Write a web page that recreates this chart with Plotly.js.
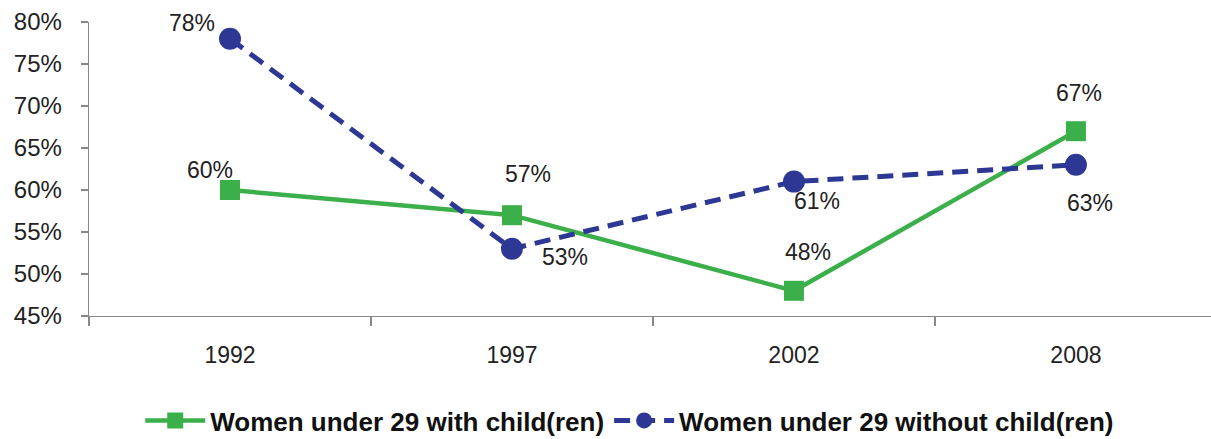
<!DOCTYPE html>
<html>
<head>
<meta charset="utf-8">
<script src="https://cdn.plot.ly/plotly-3.0.1.min.js"></script>
<style>
html,body{margin:0;padding:0;background:#fff;}
#chart{width:1211px;height:439px;}
</style>
</head>
<body>
<div id="chart"></div>
<script>
const years = ['1992', '1997', '2002', '2008'];
const withChildren = [0.60, 0.57, 0.48, 0.67];
const withoutChildren = [0.78, 0.53, 0.61, 0.63];
const seriesNames = ['Women under 29 with child(ren)', 'Women under 29 without child(ren)'];

const green = '#3AAF4A';
const blue = '#2C3894';
const font = 'Liberation Sans, Arial, sans-serif';

// label offsets (pixels) for each point
const offWith = [[-20, 20], [16, 41], [14, 39], [3, 38]];
const offWithout = [[-38, 16], [53, -8], [23, -19], [14, -38]];

const traces = [
  {
    x: years, y: withChildren, name: seriesNames[0], type: 'scatter', mode: 'lines+markers',
    line: {color: green, width: 4.5},
    marker: {symbol: 'square', size: 20, color: green}
  },
  {
    x: years, y: withoutChildren, name: seriesNames[1], type: 'scatter', mode: 'lines+markers',
    line: {color: blue, width: 5, dash: '16px,9px'},
    marker: {symbol: 'circle', size: 22, color: blue}
  }
];

const annotations = [];
years.forEach(function (yr, i) {
  annotations.push({xref: 'x', yref: 'y', x: i, y: withChildren[i], text: Math.round(withChildren[i] * 100) + '%', showarrow: false,
    xshift: offWith[i][0], yshift: offWith[i][1], font: {family: font, size: 23, color: '#222'}});
  annotations.push({xref: 'x', yref: 'y', x: i, y: withoutChildren[i], text: Math.round(withoutChildren[i] * 100) + '%', showarrow: false,
    xshift: offWithout[i][0], yshift: offWithout[i][1], font: {family: font, size: 23, color: '#222'}});
});

const layout = {
  width: 1211, height: 439,
  margin: {l: 89, r: 0, t: 22, b: 123, pad: 0},
  paper_bgcolor: '#fff', plot_bgcolor: '#fff',
  font: {family: font, size: 23, color: '#222'},
  showlegend: true,
  legend: {
    orientation: 'h', xref: 'container', yref: 'container', x: 0.52, xanchor: 'center', y: 0.042, yanchor: 'middle',
    font: {family: font, size: 26, color: '#111', weight: 'bold'},
    itemwidth: 60, tracegroupgap: 0
  },
  xaxis: {
    type: 'category', range: [-0.5, 3.479], tickson: 'boundaries',
    showline: true, linecolor: '#888', linewidth: 1.3,
    ticks: 'outside', ticklen: 9, tickcolor: '#888', tickwidth: 1.3,
    showgrid: false, zeroline: false, ticklabelstandoff: 18,
    tickfont: {family: font, size: 23, color: '#222'}
  },
  yaxis: {
    range: [0.45, 0.80], dtick: 0.05, tick0: 0.45, tickformat: '.0%',
    showline: true, linecolor: '#888', linewidth: 1.3,
    ticks: 'outside', ticklen: 7, tickcolor: '#888', tickwidth: 1.3,
    showgrid: false, zeroline: false, ticklabelstandoff: 14,
    tickfont: {family: font, size: 24, color: '#222'}
  },
  annotations: annotations
};

Plotly.newPlot('chart', traces, layout, {displayModeBar: false, staticPlot: true});
</script>
</body>
</html>
